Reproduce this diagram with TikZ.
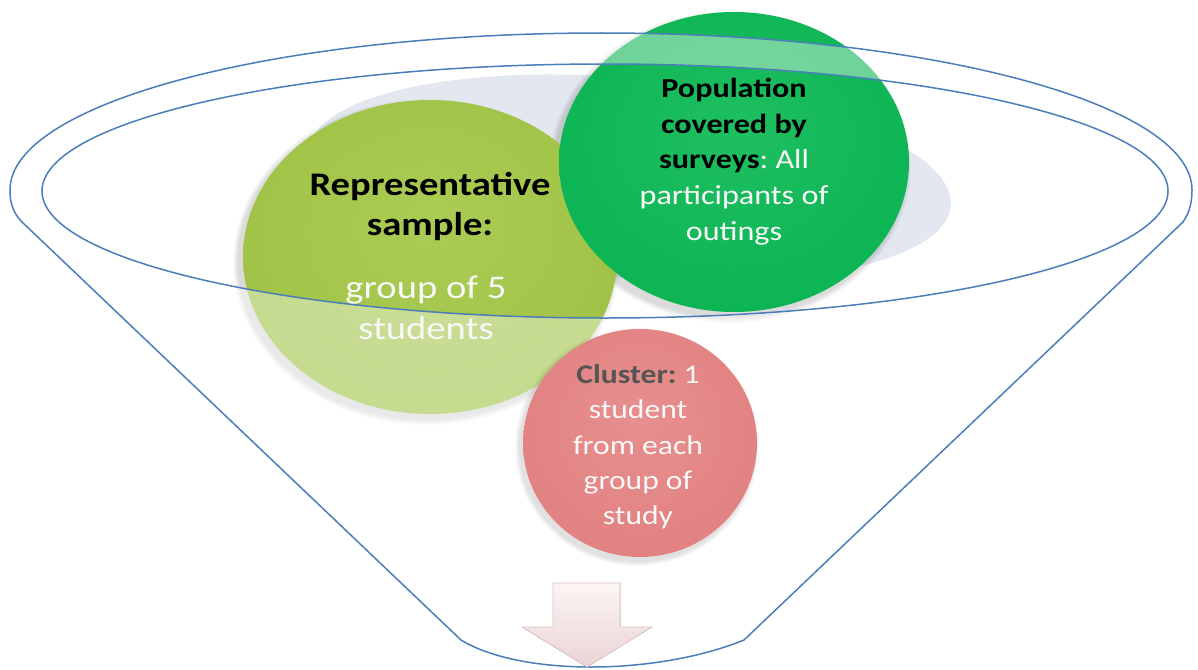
\documentclass[tikz,border=0pt]{standalone}
\usepackage{fontspec}
\setmainfont{Carlito}[FakeStretch=1.17]
\usetikzlibrary{shapes.geometric}
\definecolor{funnelblue}{RGB}{74,126,187}
\definecolor{graysh}{RGB}{227,231,239}
\definecolor{txtwhite}{RGB}{248,248,248}
\definecolor{clgray}{RGB}{85,85,85}
\pgfdeclareradialshading{lgball}{\pgfpoint{0bp}{6bp}}{rgb(0bp)=(0.67,0.80,0.33); rgb(30bp)=(0.62,0.76,0.27); rgb(44bp)=(0.57,0.72,0.22); rgb(50bp)=(0.47,0.61,0.16)}
\pgfdeclareradialshading{dgball}{\pgfpoint{0bp}{6bp}}{rgb(0bp)=(0.12,0.75,0.38); rgb(32bp)=(0.04,0.70,0.32); rgb(45bp)=(0.02,0.64,0.28); rgb(50bp)=(0.02,0.50,0.21)}
\pgfdeclareradialshading{pkball}{\pgfpoint{0bp}{6bp}}{rgb(0bp)=(0.91,0.56,0.56); rgb(32bp)=(0.88,0.50,0.50); rgb(45bp)=(0.84,0.45,0.45); rgb(50bp)=(0.74,0.37,0.37)}
\tikzset{
  ball/.style={ellipse, inner sep=0pt, shade},
  fline/.style={draw=funnelblue, line width=1.5pt},
  bigtxt/.style={anchor=base, inner sep=0pt, font=\fontsize{33}{40}\selectfont},
  poptxt/.style={anchor=base, inner sep=0pt, font=\fontsize{27.5}{35}\selectfont},
  cltxt/.style={anchor=base, inner sep=0pt, font=\fontsize{27}{35}\selectfont},
}
\frenchspacing
\begin{document}
\frenchspacing
\begin{tikzpicture}[x=1pt,y=-1pt]
\useasboundingbox (0,0) rectangle (1198,669);
\fill[white] (0,0) rectangle (1198,669);
% grey shadow ellipse
\fill[graysh, rotate around={-5:(630,178)}] (630,178) ellipse [x radius=322, y radius=100];
% soft shadows
\foreach \d in {1,...,6} {
  \fill[black, opacity=0.022] (426,262) ellipse [x radius={187+\d}, y radius={157+\d}];
  \fill[black, opacity=0.022] (730,167) ellipse [x radius={175+\d}, y radius={150+\d}];
}
% circles
\node[ball, shading=lgball, minimum width=374pt, minimum height=314pt] (sample) at (430,257) {};
\node[ball, shading=dgball, minimum width=350pt, minimum height=300pt] (popul) at (734,162) {};
% pale overlay of funnel band
\fill[white, fill opacity=0.4, even odd rule]
  (461,640) -- (22,222) .. controls (12,212) and (10,201) .. (10,190)
  arc[start angle=180, end angle=360, x radius=591, y radius=157]
  .. controls (1192,201) and (1190,212) .. (1183,222) -- (744,640)
  .. controls (655,676) and (520,676) .. (461,640) -- cycle
  (605,191) ellipse [x radius=563, y radius=127];
% funnel outlines
\draw[fline]
  (461,640) -- (22,222) .. controls (12,212) and (10,201) .. (10,190)
  arc[start angle=180, end angle=360, x radius=591, y radius=157]
  .. controls (1192,201) and (1190,212) .. (1183,222) -- (744,640)
  .. controls (655,676) and (520,676) .. (461,640) -- cycle;
\draw[fline] (605,191) ellipse [x radius=563, y radius=127];
% cluster circle
\foreach \d in {1,...,5} {
  \fill[black, opacity=0.022] (637,447) ellipse [x radius={117+\d}, y radius={114+\d}];
}
\node[ball, shading=pkball, minimum width=234pt, minimum height=228pt] (cluster) at (640,443) {};
% arrow
\fill[top color={rgb,1:red,0.99;green,0.96;blue,0.96}, bottom color={rgb,1:red,0.92;green,0.83;blue,0.83}, draw={rgb,1:red,0.86;green,0.76;blue,0.76}, line width=0.6pt]
  (553,583) -- (620,583) -- (620,627) -- (652,627) -- (587,667) -- (522,627) -- (553,627) -- cycle;
% texts: representative sample
\node[bigtxt, font=\fontsize{33}{40}\bfseries] (rs1) at (430,195) {Representative};
\node[bigtxt, font=\fontsize{33}{40}\bfseries] (rs2) at (430,235) {sample:};
\node[bigtxt, text=txtwhite] (rs3) at (426,298) {group of 5};
\node[bigtxt, text=txtwhite] (rs4) at (426,339) {students};
% population
\node[poptxt, font=\fontsize{27.5}{35}\bfseries] (pp1) at (734,97) {Population};
\node[poptxt, font=\fontsize{27.5}{35}\bfseries] (pp2) at (734,133) {covered by};
\node[poptxt] (pp3) at (734,168) {\textbf{surveys}\textcolor{txtwhite}{:\ All}};
\node[poptxt, text=txtwhite] (pp4) at (734,204) {participants of};
\node[poptxt, text=txtwhite] (pp5) at (734,240) {outings};
% cluster
\node[cltxt] (cl1) at (638,383) {\textcolor{clgray}{\textbf{Cluster:}}\ \textcolor{txtwhite}{1}};
\node[cltxt, text=txtwhite] (cl2) at (638,418) {student};
\node[cltxt, text=txtwhite] (cl3) at (638,454) {from each};
\node[cltxt, text=txtwhite] (cl4) at (638,489) {group of};
\node[cltxt, text=txtwhite] (cl5) at (638,524) {study};
\end{tikzpicture}
\end{document}
